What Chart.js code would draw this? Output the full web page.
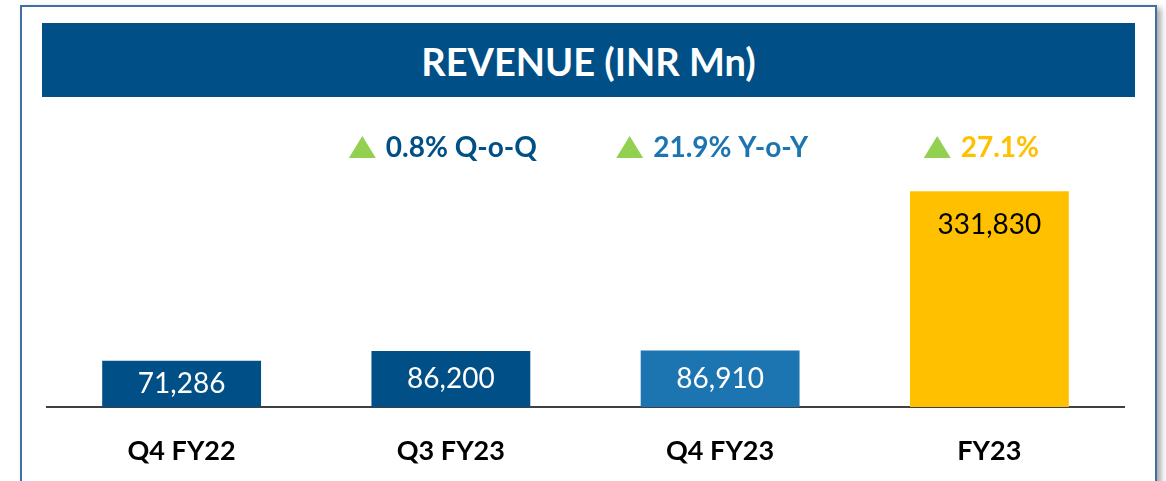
<!DOCTYPE html>
<html>
<head>
<meta charset="utf-8">
<script src="https://cdn.jsdelivr.net/npm/chart.js@4/dist/chart.umd.min.js"></script>
<style>
  html, body { margin: 0; padding: 0; background: #fff; }
  body { width: 1166px; height: 481px; position: relative; overflow: hidden; font-family: Lato, "Open Sans", sans-serif; }
  .frame { position: absolute; left: 20px; top: 5px; width: 1133px; height: 520px; border: 2px solid #3f6fa3; box-shadow: 4px 3px 6px rgba(0,0,0,0.35); background: #fff; }
  .banner { position: absolute; left: 42px; top: 23px; width: 1093px; height: 74px; background: #004f86; color: #fff; font-weight: 700; font-size: 38px; line-height: 76px; text-align: center; }
  #chart { position: absolute; left: 0; top: 0; }
</style>
</head>
<body>
<div class="frame"></div>
<div class="banner">REVENUE (INR Mn)</div>
<canvas id="chart" width="1166" height="481"></canvas>
<script>
  // chart data
  const categories = ['Q4 FY22', 'Q3 FY23', 'Q4 FY23', 'FY23'];
  const revenue = [71286, 86200, 86910, 331830];
  const changeLabels = ['', '0.8% Q-o-Q', '21.9% Y-o-Y', '27.1%'];

  const barColors   = ['#004f86', '#004f86', '#1c75b0', '#ffc000'];
  const valueColors = ['#ffffff', '#ffffff', '#ffffff', '#000000'];
  const changeColors = ['#004f86', '#004f86', '#1c75b0', '#ffc000'];

  // value text inside each bar
  const valueLabels = {
    id: 'valueLabels',
    afterDatasetsDraw(chart) {
      const ctx = chart.ctx;
      const meta = chart.getDatasetMeta(0);
      ctx.save();
      ctx.font = '28px Lato, sans-serif';
      ctx.textAlign = 'center';
      ctx.textBaseline = 'middle';
      meta.data.forEach((bar, i) => {
        const mid = (bar.y + bar.base) / 2;
        const y = Math.min(mid, bar.y + 34);
        ctx.fillStyle = valueColors[i];
        ctx.fillText(revenue[i].toLocaleString('en-US'), bar.x, y);
      });
      ctx.restore();
    }
  };

  // green up-arrow + growth text above the bars
  const changeMarks = {
    id: 'changeMarks',
    afterDraw(chart) {
      const ctx = chart.ctx;
      const meta = chart.getDatasetMeta(0);
      const y = 147;
      ctx.save();
      ctx.font = 'bold 28px Lato, sans-serif';
      ctx.textBaseline = 'middle';
      ctx.textAlign = 'left';
      meta.data.forEach((bar, i) => {
        const txt = changeLabels[i];
        if (!txt) return;
        const tw = ctx.measureText(txt).width;
        const gw = 27 + 10 + tw;
        const sx = bar.x - gw / 2 - 8;
        ctx.fillStyle = '#92d050';
        ctx.beginPath();
        ctx.moveTo(sx, y + 11);
        ctx.lineTo(sx + 27, y + 11);
        ctx.lineTo(sx + 13.5, y - 11);
        ctx.closePath();
        ctx.fill();
        ctx.fillStyle = changeColors[i];
        ctx.fillText(txt, sx + 37, y + 1);
      });
      ctx.restore();
    }
  };

  new Chart(document.getElementById('chart'), {
    type: 'bar',
    data: {
      labels: categories,
      datasets: [{
        data: revenue,
        backgroundColor: barColors,
        borderWidth: 0,
        categoryPercentage: 1,
        barPercentage: 0.59
      }]
    },
    options: {
      responsive: false,
      animation: false,
      layout: { padding: { left: 47, right: 42, top: 147, bottom: 0 } },
      plugins: { legend: { display: false }, tooltip: { enabled: false } },
      scales: {
        x: {
          grid: { display: false },
          border: { display: true, color: '#404040', width: 2 },
          ticks: { color: '#000', padding: 20, font: { family: 'Lato, sans-serif', size: 27, weight: 'bold' } },
          afterFit(scale) { scale.height = 74; }
        },
        y: { display: false, min: 0, max: 400000 }
      }
    },
    plugins: [valueLabels, changeMarks]
  });
</script>
</body>
</html>
